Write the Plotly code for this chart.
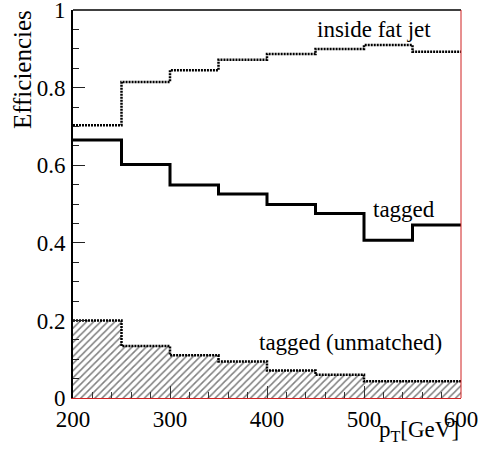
import plotly.graph_objects as go

# ---- data ----
bin_edges = [200, 250, 300, 350, 400, 450, 500, 550, 600]
inside_fat_jet = [0.703, 0.815, 0.845, 0.872, 0.887, 0.900, 0.910, 0.893]
tagged = [0.665, 0.602, 0.549, 0.526, 0.499, 0.476, 0.407, 0.446]
tagged_unmatched = [0.200, 0.134, 0.110, 0.094, 0.071, 0.060, 0.043, 0.043]
y_tick_vals = [0, 0.2, 0.4, 0.6, 0.8, 1]
y_tick_text = ["0", "0.2", "0.4", "0.6", "0.8", "1"]
x_tick_vals = [200, 300, 400, 500, 600]
x_tick_text = ["200", "300", "400", "500", "600"]

FONT = "Liberation Serif"


def step(vals):
    return bin_edges, list(vals) + [vals[-1]]


centers = [(a + b) / 2 for a, b in zip(bin_edges[:-1], bin_edges[1:])]
widths = [b - a for a, b in zip(bin_edges[:-1], bin_edges[1:])]

fig = go.Figure()

# hatched unmatched histogram
fig.add_trace(go.Bar(
    x=centers, y=tagged_unmatched, width=widths,
    marker=dict(color="white", line=dict(width=0),
                pattern=dict(shape="/", size=5, solidity=0.3,
                             fgcolor="black", bgcolor="white")),
    showlegend=False, hoverinfo="skip"))

xs, ys = step(tagged_unmatched)
fig.add_trace(go.Scatter(x=xs, y=ys, mode="lines", line_shape="hv",
                         line=dict(color="black", width=2.5, dash="2px,1px"),
                         showlegend=False))

xs, ys = step(inside_fat_jet)
fig.add_trace(go.Scatter(x=xs, y=ys, mode="lines", line_shape="hv",
                         line=dict(color="black", width=2.5, dash="2px,1px"),
                         showlegend=False))

xs, ys = step(tagged)
fig.add_trace(go.Scatter(x=xs, y=ys, mode="lines", line_shape="hv",
                         line=dict(color="black", width=3),
                         showlegend=False))

fig.update_layout(
    width=489, height=451,
    margin=dict(l=73, r=28, t=10, b=53, autoexpand=False),
    paper_bgcolor="white", plot_bgcolor="white",
    font=dict(family=FONT, size=22, color="black"),
    bargap=0,
    xaxis=dict(range=[200, 600], showgrid=False, zeroline=False,
               automargin=False, ticklabeloverflow="allow",
               showline=True, linecolor="#d02020", linewidth=1,
               tickmode="array", tickvals=x_tick_vals, ticktext=x_tick_text,
               ticks="inside", ticklen=12, tickwidth=1, tickcolor="#333",
               minor=dict(ticks="inside", ticklen=6, dtick=20, tick0=200,
                          tickcolor="#333", tickwidth=1),
               tickfont=dict(size=23, family=FONT, color="black")),
    yaxis=dict(range=[0, 1.0005], showgrid=False, zeroline=False,
               automargin=False, ticklabeloverflow="allow",
               showline=True, linecolor="black", linewidth=2,
               tickmode="array", tickvals=y_tick_vals, ticktext=y_tick_text,
               ticks="inside", ticklen=12, tickwidth=1, tickcolor="#222",
               minor=dict(ticks="inside", ticklen=6, dtick=0.05, tick0=0,
                          tickcolor="#222", tickwidth=1),
               tickfont=dict(size=23, family=FONT, color="black"),
               ticklabelstandoff=1),
    shapes=[
        dict(type="line", xref="paper", yref="paper", x0=0, x1=1, y0=1, y1=1,
             line=dict(color="black", width=1.5)),
        dict(type="line", xref="paper", yref="paper", x0=1, x1=1, y0=0, y1=1,
             line=dict(color="#d02020", width=1)),
    ],
    annotations=[
        dict(text="inside fat jet", x=510, y=0.951, xref="x", yref="y",
             showarrow=False, font=dict(size=23, family=FONT)),
        dict(text="tagged", x=541, y=0.487, xref="x", yref="y",
             showarrow=False, font=dict(size=23, family=FONT)),
        dict(text="tagged (unmatched)", x=486, y=0.144, xref="x", yref="y",
             showarrow=False, font=dict(size=23, family=FONT)),
        dict(text="Efficiencies", textangle=-90, xref="paper", yref="paper",
             x=-0.13, y=1.005, xanchor="center", yanchor="top",
             showarrow=False, font=dict(size=25, family=FONT)),
        dict(text="p<sub>T</sub>[GeV]", xref="paper", yref="paper",
             x=1.0, y=-0.045, xanchor="right", yanchor="top",
             showarrow=False, font=dict(size=23, family=FONT)),
    ],
)

fig.write_html("out.html", config={"displayModeBar": False},
               post_script="document.body.style.margin='0';")
